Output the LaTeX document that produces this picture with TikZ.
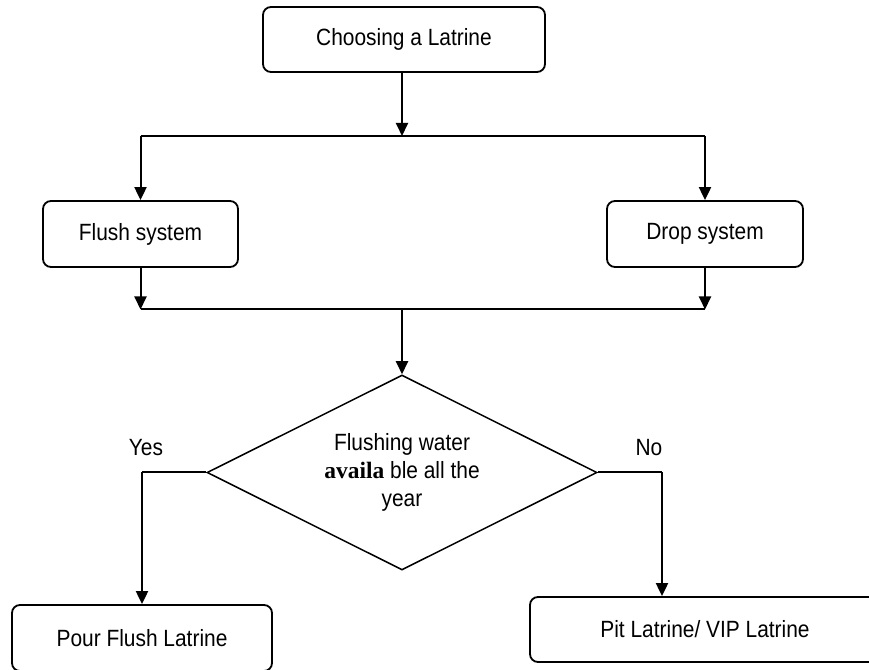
\documentclass[tikz,border=0pt]{standalone}
\usepackage{fontspec}
\setmainfont{Liberation Sans}[FakeStretch=0.89]
\newfontfamily\timesfont{Liberation Serif}
\usetikzlibrary{shapes.geometric,arrows.meta}

\begin{document}
\begin{tikzpicture}[x=1pt, y=1pt,
	box/.style={draw, rounded corners=8pt, line width=1.8pt, align=center, font=\fontsize{23.5}{28}\selectfont},
	flow/.style={line width=2pt, -{Triangle[length=13pt,width=12pt]}},
	wire/.style={line width=2pt}]
			\useasboundingbox (0,0) rectangle (869,669);
			\node[box, minimum width=282pt, minimum height=65pt](choose) at (404,629.5){Choosing a Latrine};
			\node[box, minimum width=195pt, minimum height=66pt](flush) at (140.5,435){Flush system};
			\node[box, minimum width=196pt, minimum height=66pt](drop) at (705,435){Drop system};
			\node[diamond, draw, line width=1.5pt, minimum width=390pt, minimum height=195pt, aspect=2, align=center, font=\fontsize{23.5}{28}\selectfont](water) at (402,196.5){Flushing water\\{\timesfont\bfseries availa} ble all the\\year};
			\node[box, minimum width=260pt, minimum height=66pt](pour) at (142,31){Pour Flush Latrine};
			\node[box, minimum width=350pt, minimum height=65pt](pit) at (705,39.5){Pit Latrine/ VIP Latrine};
			\node[font=\fontsize{23.5}{28}\selectfont](yes) at (146,221){Yes};
			\node[font=\fontsize{23.5}{28}\selectfont](no) at (649,221){No};
			\coordinate (split) at (402,533);
			\coordinate (merge) at (402,359.5);
			\coordinate (nobend) at (662,196.5);
			\draw[flow] (choose.south -| split) -- (split);
			\draw[wire] (flush.north |- split) -- (drop.north |- split);
			\draw[flow] (flush.north |- split) -- (flush.north);
			\draw[flow] (drop.north |- split) -- (drop.north);
			\draw[flow] (flush.south) -- (flush.south |- merge);
			\draw[flow] (drop.south) -- (drop.south |- merge);
			\draw[wire] (flush.south |- merge) -- (drop.south |- merge);
			\draw[flow] (merge) -- (water.north);
			\draw[wire] (water.west) -- (pour.north |- water.west);
			\draw[flow] (pour.north |- water.west) -- (pour.north);
			\draw[wire] (water.east) -- (nobend);
			\draw[flow] (nobend) -- (nobend |- pit.north);
\end{tikzpicture}
\end{document}
